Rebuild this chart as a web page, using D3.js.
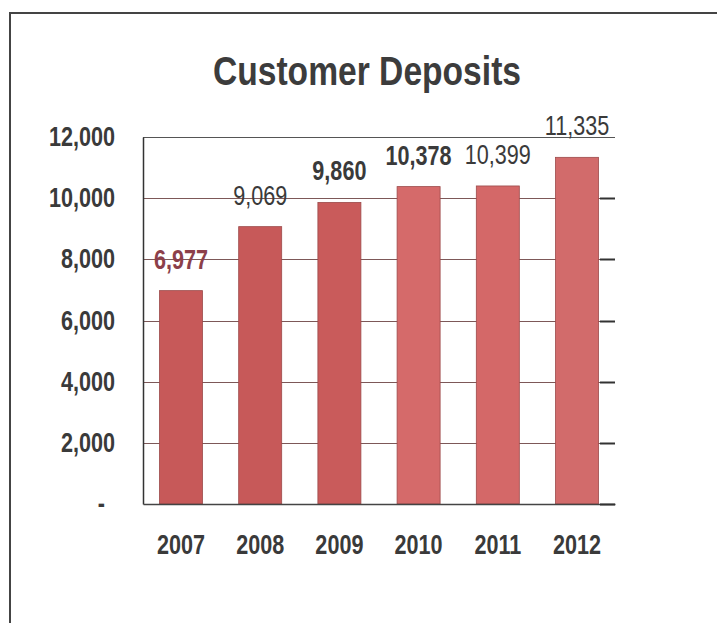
<!DOCTYPE html>
<html>
<head>
<meta charset="utf-8">
<script src="https://cdn.jsdelivr.net/npm/d3@7"></script>
<style>
    body { margin: 0; background: #fff; }
    svg text { font-family: "Liberation Sans", Arial, sans-serif; }
</style>
</head>
<body>
<div id="chart"></div>
<script>

// data
var years = ['2007', '2008', '2009', '2010', '2011', '2012'];
var deposits = [6977, 9069, 9860, 10378, 10399, 11335];
var yTicks = [0, 2000, 4000, 6000, 8000, 10000, 12000];
var title = 'Customer Deposits';

var width = 717,
    height = 623,
    margin = {top: 137, right: 102, bottom: 119, left: 143};

// no narrow font installed, so squeeze the glyphs horizontally
function narrow(sel, k) {
    sel.each(function () {
        var w = this.getComputedTextLength();
        d3.select(this)
            .attr('textLength', w * k)
            .attr('lengthAdjust', 'spacingAndGlyphs');
    });
}

var svg = d3.select('#chart').append('svg')
    .attr('width', width)
    .attr('height', height);

// outer frame (runs off the right and bottom edge, like the scan)
svg.append('rect')
    .attr('x', 10)
    .attr('y', 13)
    .attr('width', width + 20)
    .attr('height', height + 20)
    .attr('fill', 'none')
    .attr('stroke', '#444')
    .attr('stroke-width', 2);

svg.append('text')
    .attr('x', 367)
    .attr('y', 85)
    .attr('text-anchor', 'middle')
    .attr('font-size', 40)
    .attr('font-weight', 'bold')
    .attr('fill', '#3c3c3c')
    .text(title)
    .call(narrow, 0.84);

var x = d3.scaleBand()
    .domain(years)
    .range([margin.left, width - margin.right])
    .paddingInner(0.457)
    .paddingOuter(0.208);

var y = d3.scaleLinear()
    .domain([0, 12000])
    .range([height - margin.bottom, margin.top]);

// bars on the right half came out a little lighter in the original
var color = d3.scaleOrdinal()
    .domain(years)
    .range(['#c75959', '#c75959', '#c95b5b', '#d56a6a', '#d46868', '#d26b6b']);

/////// GRID
var grid = svg.append('g').attr('class', 'grid');
grid.selectAll('line')
    .data(yTicks.filter(function (d) { return d > 0 && d < 12000; }))
    .enter().append('line')
    .attr('x1', margin.left)
    .attr('x2', width - margin.right)
    .attr('y1', function (d) { return Math.round(y(d)) + 0.5; })
    .attr('y2', function (d) { return Math.round(y(d)) + 0.5; })
    .attr('stroke', '#7d5858')
    .attr('stroke-width', 1.2);

// top line at 12,000
svg.append('line')
    .attr('x1', margin.left)
    .attr('x2', width - margin.right)
    .attr('y1', Math.round(y(12000)) + 0.5)
    .attr('y2', Math.round(y(12000)) + 0.5)
    .attr('stroke', '#555')
    .attr('stroke-width', 1.2);

/////// BARS
svg.append('g').selectAll('rect')
    .data(deposits)
    .enter().append('rect')
    .attr('x', function (d, i) { return x(years[i]); })
    .attr('y', function (d) { return y(d); })
    .attr('width', x.bandwidth())
    .attr('height', function (d) { return y(0) - y(d); })
    .attr('fill', function (d, i) { return color(years[i]); })
    .attr('stroke', '#9c4a4a')
    .attr('stroke-width', 0.8);

/////// AXES
var yAxis = d3.axisLeft(y)
    .tickValues(yTicks)
    .tickSize(0)
    .tickPadding(28)
    .tickFormat(function (d) { return d === 0 ? '-' : d3.format(',')(d); });

var gY = svg.append('g')
    .attr('transform', 'translate(' + margin.left + ',0)')
    .call(yAxis);
gY.select('.domain').attr('stroke', '#333').attr('stroke-width', 1.5);
gY.selectAll('text')
    .attr('font-size', 27)
    .attr('font-weight', 'bold')
    .attr('fill', '#3a3a3a')
    .attr('font-family', '"Liberation Sans", sans-serif')
    .call(narrow, 0.8);
// accounting format: the zero dash sits left of the digits column
gY.selectAll('.tick')
    .filter(function (d) { return d === 0; })
    .select('text')
    .attr('dx', -10);

var xAxis = d3.axisBottom(x)
    .tickSize(0)
    .tickPadding(31);

var gX = svg.append('g')
    .attr('transform', 'translate(0,' + y(0) + ')')
    .call(xAxis);
gX.select('.domain').attr('stroke', '#444').attr('stroke-width', 1.5);
gX.selectAll('text')
    .attr('font-size', 27)
    .attr('font-weight', 'bold')
    .attr('fill', '#3a3a3a')
    .attr('font-family', '"Liberation Sans", sans-serif')
    .call(narrow, 0.8);

// right-hand tick marks
svg.append('g').selectAll('line')
    .data(yTicks.filter(function (d) { return d < 12000; }))
    .enter().append('line')
    .attr('x1', width - margin.right - 15)
    .attr('x2', width - margin.right)
    .attr('y1', function (d) { return Math.round(y(d)) + 0.5; })
    .attr('y2', function (d) { return Math.round(y(d)) + 0.5; })
    .attr('stroke', '#333')
    .attr('stroke-width', 2);

/////// VALUE LABELS
function labelWeight(i) {
    return (i === 0 || i === 2 || i === 3) ? 'bold' : 'normal';
}

svg.append('g').selectAll('text')
    .data(deposits)
    .enter().append('text')
    .attr('x', function (d, i) { return x(years[i]) + x.bandwidth() / 2; })
    .attr('y', function (d) { return y(d) - 22; })
    .attr('text-anchor', 'middle')
    .attr('font-size', 27)
    .attr('font-weight', function (d, i) { return labelWeight(i); })
    .attr('fill', function (d, i) { return i === 0 ? '#8c3f4a' : '#3a3a3a'; })
    .text(function (d) { return d3.format(',')(d); })
    .call(narrow, 0.8);

</script>
</body>
</html>
